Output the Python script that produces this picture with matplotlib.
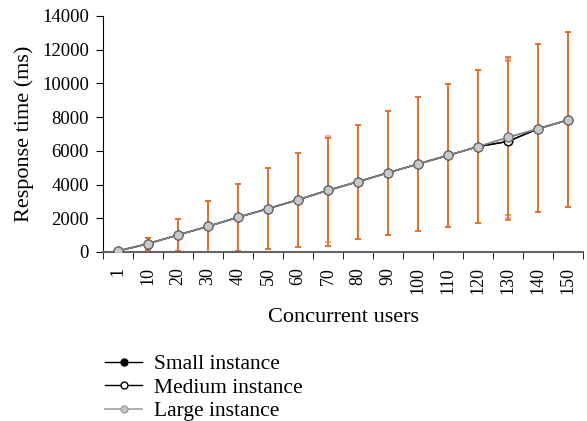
import numpy as np
import matplotlib.pyplot as plt

plt.rcParams['font.family'] = ['Liberation Serif', 'DejaVu Serif']

users = ['1', '10', '20', '30', '40', '50', '60', '70', '80', '90', '100', '110', '120', '130', '140', '150']

# mean response time (ms)
small_mean = [60, 490, 1010, 1520, 2060, 2570, 3100, 3660, 4170, 4700, 5220, 5730, 6250, 6560, 7310, 7830]
medium_mean = [60, 490, 1010, 1520, 2060, 2570, 3100, 3660, 4170, 4700, 5220, 5730, 6250, 6560, 7310, 7830]
large_mean = [60, 490, 1010, 1520, 2060, 2570, 3100, 3660, 4170, 4700, 5220, 5730, 6250, 6800, 7310, 7830]

# min / max of error bars (ms)
small_lo = [60, 120, 30, 0, 30, 180, 315, 375, 770, 990, 1260, 1500, 1740, 1900, 2360, 2650]
small_hi = [60, 850, 1940, 3000, 4050, 5000, 5870, 6740, 7530, 8380, 9170, 9980, 10770, 11580, 12310, 13030]
medium_lo = [60, 120, 30, 0, 30, 180, 315, 375, 770, 990, 1260, 1500, 1740, 2190, 2360, 2650]
medium_hi = [60, 850, 1940, 3000, 4050, 5000, 5870, 6740, 7530, 8380, 9170, 9980, 10770, 11320, 12310, 13030]
large_lo = [60, 120, 30, 0, 30, 180, 315, 590, 770, 990, 1260, 1500, 1740, 2000, 2360, 2650]
large_hi = [60, 850, 1940, 3000, 4050, 5000, 5870, 6900, 7530, 8380, 9170, 9980, 10770, 11450, 12310, 13030]

x = np.arange(len(users))

fig = plt.figure(figsize=(5.87, 4.21), dpi=100)
ax = fig.add_axes([103/587, 1-252/421, 480/587, 236/421])

def err(mean, lo, hi):
    m = np.array(mean); return [m - np.array(lo), np.array(hi) - m]

ax.errorbar(x, large_mean, yerr=err(large_mean, large_lo, large_hi), fmt='none',
            ecolor='#f2a49a', elinewidth=1.5, capsize=2, capthick=1.2, zorder=2)
ax.errorbar(x, medium_mean, yerr=err(medium_mean, medium_lo, medium_hi), fmt='none',
            ecolor='#ee8a3c', elinewidth=1.3, capsize=2, capthick=1.2, zorder=2)
ax.errorbar(x, small_mean, yerr=err(small_mean, small_lo, small_hi), fmt='none',
            ecolor='#dc6f2c', elinewidth=1.2, capsize=2, capthick=1.2, zorder=2)

ax.plot(x, small_mean, '-o', color='black', lw=1, ms=6, mfc='black', zorder=3, label='Small instance')
ax.plot(x, medium_mean, '-o', color='black', lw=1, ms=6, mfc='white', mec='black', zorder=4, label='Medium instance')
ax.plot(x, large_mean, '-o', color='#808080', lw=1.3, ms=6.5, mfc='#c8c8c8', mec='#707070', zorder=5, label='Large instance')

ax.set_xlim(-0.5, len(users) - 0.5)
ax.set_ylim(0, 14000)
ax.set_yticks(range(0, 14001, 2000))
ax.set_xticks(x)
ax.set_xticklabels(users, rotation=90, fontsize=13)
ax.set_xticks(np.arange(-0.5, len(users)), minor=True)
ax.tick_params(axis='x', which='major', length=0, pad=11)
ax.tick_params(axis='x', which='minor', length=5, direction='out')
ax.tick_params(axis='y', labelsize=13.5, length=5, direction='out', pad=5)
for s in ['top', 'right']:
    ax.spines[s].set_visible(False)
ax.spines['bottom'].set_color('#666666')
ax.spines['bottom'].set_linewidth(1.5)

ax.set_xlabel('Concurrent users', fontsize=16, labelpad=10)
ax.set_ylabel('Response time (ms)', fontsize=16, labelpad=6)

handles = [
    plt.Line2D([], [], color='black', lw=1, marker='o', ms=5, mfc='black'),
    plt.Line2D([], [], color='black', lw=1, marker='o', ms=5, mfc='white', mec='black'),
    plt.Line2D([], [], color='#a0a0a0', lw=1.2, marker='o', ms=5, mfc='#c8c8c8', mec='#a0a0a0'),
]
fig.legend(handles, ['Small instance', 'Medium instance', 'Large instance'],
           loc='upper left', bbox_to_anchor=(86/587, 1-335/421), frameon=False,
           fontsize=15.5, handlelength=1.7, labelspacing=0.16, handletextpad=0.55)

fig.savefig('out.png', dpi=100)
